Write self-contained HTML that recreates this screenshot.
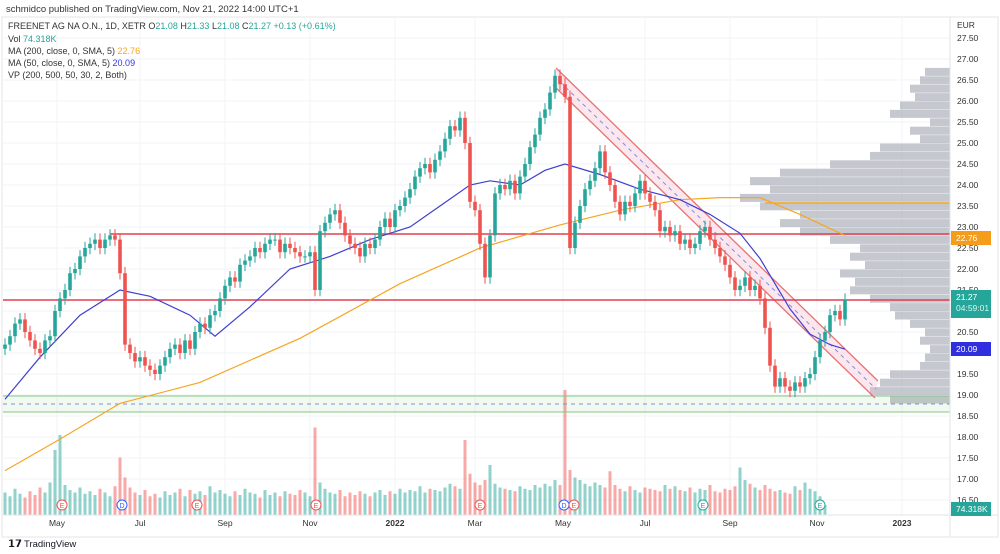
<!DOCTYPE html>
<html><head><meta charset="utf-8"><style>
body{margin:0;background:#fff;font-family:"Liberation Sans",sans-serif;}
svg{display:block}
text{font-family:"Liberation Sans",sans-serif}
</style></head><body>
<svg id="c" width="1000" height="554" viewBox="0 0 1000 554">
<rect x="0" y="0" width="1000" height="554" fill="#fff"/>
<text x="6" y="12" font-size="9.5" fill="#333">schmidco published on TradingView.com, Nov 21, 2022 14:00 UTC+1</text>
<rect x="2" y="17" width="996" height="520" fill="none" stroke="#e6e6e6"/>
<g id="grid"></g>
<g id="vp"></g>
<g id="vol"></g>
<rect x="3" y="396" width="947" height="16" fill="#4caf50" fill-opacity="0.08"/>
<line x1="3" y1="396" x2="950" y2="396" stroke="#81c784" stroke-width="1"/>
<line x1="3" y1="412" x2="950" y2="412" stroke="#81c784" stroke-width="1"/>
<line x1="3" y1="404" x2="950" y2="404" stroke="#7b8fe0" stroke-dasharray="4,4"/>
<polygon points="556,68 878,381 875,398 553,85" fill="#f8bbd0" fill-opacity="0.35"/>
<line x1="556" y1="68" x2="878" y2="381" stroke="#e57373" stroke-width="1.3"/>
<line x1="553" y1="85" x2="875" y2="398" stroke="#e57373" stroke-width="1.3"/>
<line x1="554" y1="76" x2="876" y2="389" stroke="#7b8fe0" stroke-dasharray="4,4"/>
<line x1="110" y1="234" x2="950" y2="234" stroke="#e04050" stroke-width="1.6"/>
<line x1="3" y1="300" x2="950" y2="300" stroke="#e04050" stroke-width="1.6"/>
<line x1="765" y1="203" x2="950" y2="203" stroke="#f5a623" stroke-width="1.6"/>
<g id="ma"></g>
<g id="candles"></g>
<g id="axis"></g>
<g font-size="9">
<text x="8" y="29" fill="#333">FREENET AG NA O.N., 1D, XETR  O<tspan fill="#26a69a">21.08</tspan> H<tspan fill="#26a69a">21.33</tspan> L<tspan fill="#26a69a">21.08</tspan> C<tspan fill="#26a69a">21.27</tspan> <tspan fill="#26a69a">+0.13 (+0.61%)</tspan></text>
<text x="8" y="42" fill="#333">Vol <tspan fill="#26a69a">74.318K</tspan></text>
<text x="8" y="54" fill="#333">MA (200, close, 0, SMA, 5) <tspan fill="#f5a623">22.76</tspan></text>
<text x="8" y="66" fill="#333">MA (50, close, 0, SMA, 5) <tspan fill="#3333ee">20.09</tspan></text>
<text x="8" y="78" fill="#333">VP (200, 500, 50, 30, 2, Both)</text>
</g>
<g>
<text x="8" y="547" font-size="10" font-weight="bold" fill="#131722">𝟭𝟳</text>
<text x="24" y="547" font-size="9.5" fill="#131722">TradingView</text>
</g>
</svg>
<script>
const closes=[20.2,20.4,20.7,20.8,20.5,20.3,20.1,20.0,20.3,20.4,21.0,21.3,21.5,21.9,22.0,22.3,22.5,22.6,22.7,22.5,22.7,22.8,22.7,21.9,20.2,20.0,19.8,19.9,19.7,19.6,19.5,19.7,19.9,20.1,20.2,20.0,20.3,20.1,20.5,20.7,20.6,20.9,21.0,21.3,21.6,21.8,21.7,22.1,22.2,22.3,22.5,22.4,22.6,22.7,22.7,22.4,22.6,22.5,22.4,22.3,22.3,22.4,21.5,22.9,23.1,23.3,23.4,23.1,22.8,22.6,22.5,22.3,22.6,22.5,22.7,23.0,23.2,23.0,23.4,23.5,23.7,23.9,24.2,24.4,24.5,24.3,24.6,24.8,25.1,25.4,25.3,25.6,25.0,23.6,23.4,22.6,21.8,22.8,23.8,24.0,23.9,24.1,23.8,24.2,24.5,24.9,25.2,25.6,25.8,26.2,26.6,26.4,26.1,22.5,23.1,23.5,23.9,24.1,24.4,24.8,24.3,24.0,23.6,23.3,23.6,23.5,23.8,24.1,23.8,23.6,23.4,22.9,23.0,22.8,22.9,22.6,22.7,22.5,22.6,22.9,23.0,22.7,22.5,22.3,22.1,21.8,21.5,21.6,21.8,21.5,21.6,21.3,20.6,19.7,19.2,19.4,19.2,19.1,19.3,19.2,19.4,19.5,19.9,20.3,20.5,20.9,21.0,20.8,21.27];
const volumes=[180,150,210,170,140,190,160,220,180,260,520,640,240,200,180,220,170,190,160,210,180,150,230,460,300,220,180,160,200,150,170,140,190,160,180,210,150,200,170,190,160,230,180,200,170,150,190,160,210,180,170,140,200,160,180,150,190,170,160,200,180,150,700,260,210,180,170,200,150,180,160,190,170,150,180,200,160,190,170,210,180,200,190,230,180,210,200,190,220,250,230,210,600,330,260,240,280,400,250,220,210,200,190,230,210,200,240,220,250,230,280,240,1000,360,300,280,250,230,260,240,220,350,240,210,190,230,200,180,220,210,200,190,240,210,230,200,190,220,180,210,200,240,190,180,210,200,230,380,280,250,220,200,240,210,190,200,180,170,230,200,260,210,190,150,80];
const ma50=[[0,18.9],[7,19.9],[15,20.9],[23,21.5],[29,21.35],[37,20.9],[42,20.4],[49,21.1],[57,22.0],[65,22.3],[73,22.7],[81,23.0],[87,23.5],[93,24.0],[97,24.1],[103,24.0],[108,24.35],[112,24.5],[119,24.25],[127,23.9],[135,23.65],[141,23.3],[147,22.85],[151,22.25],[157,21.05],[161,20.45],[165,20.2],[168,20.09]];
const ma200=[[0,17.2],[11,17.95],[23,18.8],[39,19.3],[59,20.35],[79,21.65],[95,22.5],[111,23.05],[123,23.4],[135,23.65],[143,23.7],[151,23.7],[159,23.3],[168,22.8]];
const vpPrices=[18.8,19.0,19.2,19.4,19.6,19.8,20.0,20.2,20.4,20.6,20.8,21.0,21.2,21.4,21.6,21.8,22.0,22.2,22.4,22.6,22.8,23.0,23.2,23.4,23.6,23.8,24.0,24.2,24.4,24.6,24.8,25.0,25.2,25.4,25.6,25.8,26.0,26.2,26.4,26.6];
const vpVolumes=[60,80,70,60,30,25,20,30,25,40,55,60,80,100,95,110,85,100,90,120,150,170,150,190,210,180,200,170,120,80,70,30,40,20,60,50,35,40,30,25];
const priceTicks=[27.5,27,26.5,26,25.5,25,24.5,24,23.5,23,22.5,22,21.5,21,20.5,20,19.5,19,18.5,18,17.5,17,16.5];
const monthLabels=["May","Jul","Sep","Nov","2022","Mar","May","Jul","Sep","Nov","2023"];
const monthX=[57,140,225,310,395,475,563,645,730,817,902];
const NS="http://www.w3.org/2000/svg";
const yP=p=>38+(27.5-p)*42;
const x0=5,x1=845;
const xI=i=>x0+i*(x1-x0)/(closes.length-1);
function mk(tag,attrs,parent){const e=document.createElementNS(NS,tag);for(const k in attrs)e.setAttribute(k,attrs[k]);parent.appendChild(e);return e;}
const grid=document.getElementById('grid');
priceTicks.forEach(p=>{const l=mk('line',{x1:3,x2:950,y1:yP(p),y2:yP(p),stroke:'#f2f3f5'},grid);

});
monthX.forEach(x=>{const l=mk('line',{x1:x,x2:x,y1:18,y2:515,stroke:'#f2f3f5'},grid);

});
// volume profile
const vp=document.getElementById('vp');
vpPrices.forEach((p,i)=>{const w=vpVolumes[i];const r=mk('rect',{x:950-w,y:yP(p+0.2)+0.5,width:w,height:8,fill:'#b2b5be','fill-opacity':0.75},vp);

});
// volumes
const vol=document.getElementById('vol');
const vScale=125/1000;
volumes.forEach((v,i)=>{const up=i==0||closes[i]>=closes[i-1];const h=v*vScale;
const r=mk('rect',{x:xI(i)-1.5,y:515-h,width:3,height:h,fill:up?'#26a69a':'#ef5350','fill-opacity':0.5},vol);

});
// MAs
const ma=document.getElementById('ma');
function path(arr){return arr.map((d,k)=>(k?'L':'M')+xI(d[0]).toFixed(1)+','+yP(d[1]).toFixed(1)).join(' ');}
const p1=mk('path',{d:path(ma200),fill:'none',stroke:'#f5a623','stroke-width':1.2},ma);


const p2=mk('path',{d:path(ma50),fill:'none',stroke:'#3f3fd0','stroke-width':1.2},ma);


// candles
const cg=document.getElementById('candles');
closes.forEach((c,i)=>{const o=i?closes[i-1]:c-0.1;const up=c>=o;const col=up?'#26a69a':'#ef5350';
const hi=Math.max(o,c)+0.15,lo=Math.min(o,c)-0.15;const x=xI(i);
const g=mk('g',{},cg);


mk('line',{x1:x,x2:x,y1:yP(hi),y2:yP(lo),stroke:col,'stroke-width':1},g);
const top=yP(Math.max(o,c));const h=Math.max(1,yP(Math.min(o,c))-top);
mk('rect',{x:x-1.8,y:top,width:3.6,height:h,fill:col},g);});
// axes
const ax=document.getElementById('axis');
mk('line',{x1:950,x2:950,y1:17,y2:537,stroke:'#e0e3eb'},ax);
mk('line',{x1:3,x2:998,y1:515,y2:515,stroke:'#e0e3eb'},ax);
const eur=mk('text',{x:957,y:28,'font-size':8.5,fill:'#333'},ax);eur.textContent='EUR';


priceTicks.forEach(p=>{const t=mk('text',{x:957,y:yP(p)+3,'font-size':8.5,fill:'#333'},ax);t.textContent=p.toFixed(2);

});
monthLabels.forEach((m,i)=>{const t=mk('text',{x:monthX[i],y:526,'font-size':8.5,fill:'#333','text-anchor':'middle','font-weight':/20/.test(m)?'bold':'normal'},ax);t.textContent=m;

});
function tag(y,h,bg,lines,name){const g=mk('g',{},ax);


mk('rect',{x:951,y:y,width:40,height:h,fill:bg},g);
lines.forEach((s,k)=>{const t=mk('text',{x:956,y:y+10+k*11,'font-size':8.5,fill:k?'#d8f5ef':'#fff'},g);t.textContent=s;});}
tag(231,14,'#f59c1a',['22.76'],'ma200-price-tag');
tag(290,28,'#26a69a',['21.27','04:59:01'],'last-price-tag');
tag(342,14,'#2f2fe0',['20.09'],'ma50-price-tag');
tag(502,14,'#26a69a',['74.318K'],'volume-tag');
// earnings/dividend markers
const ev=[[62,'E'],[122,'D'],[197,'E'],[316,'E'],[480,'E'],[564,'D'],[574,'E'],[703,'E'],[820,'E']];
ev.forEach(e=>{const g=mk('g',{},ax);


const col=e[1]=='D'?'#2962ff':(e[0]>600?'#26a69a':'#ef5350');
mk('circle',{cx:e[0],cy:505,r:5,fill:'#fff',stroke:col},g);
const t=mk('text',{x:e[0],y:508,'font-size':7,fill:col,'text-anchor':'middle'},g);t.textContent=e[1];});
</script>
</body></html>
